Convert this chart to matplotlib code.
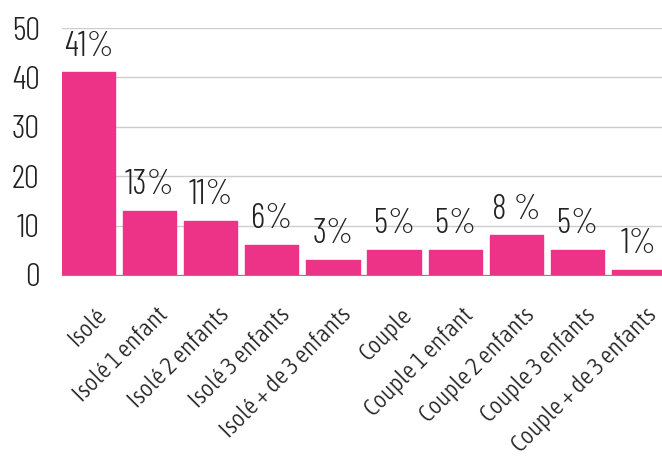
import matplotlib
matplotlib.use("Agg")
import matplotlib.pyplot as plt
from matplotlib import font_manager as fm
from matplotlib.transforms import ScaledTranslation

categories = ["Isolé", "Isolé 1 enfant", "Isolé 2 enfants", "Isolé 3 enfants",
              "Isolé + de 3 enfants", "Couple", "Couple 1 enfant",
              "Couple 2 enfants", "Couple 3 enfants", "Couple + de 3 enfants"]
values = [41, 13, 11, 6, 3, 5, 5, 8, 5, 1]
labels = ["41%", "13%", "11%", "6%", "3%", "5%", "5%", "8 %", "5%", "1%"]
yticks = [0, 10, 20, 30, 40, 50]

faces = fm.fontManager.ttflist
def has(name, maxw):
    return any(f.name == name and f.weight <= maxw for f in faces)

digit_font = "DejaVu Sans"
for cand in ["Barlow Condensed", "Saira Condensed", "Asap Condensed"]:
    if has(cand, 300):
        digit_font = cand
        break
label_font = "Asap Condensed" if has("Asap Condensed", 300) else digit_font

plt.rcParams['font.family'] = [label_font, 'DejaVu Sans']

fig = plt.figure(figsize=(6.62, 4.59), dpi=100)
ax = fig.add_axes([62/662, 1-275/459, 1-62/662, (275-28)/459])
w = 0.87
x = list(range(len(values)))
ax.bar(x, values, width=w, color="#EC3388", edgecolor="#EC3388", linewidth=1,
       joinstyle="round", zorder=3)
for xi, v, lab in zip(x, values, labels):
    ax.text(xi, v + 2.0, lab, ha="center", va="bottom", fontsize=25, color="#222222",
            family=[digit_font, 'DejaVu Sans'], weight=300)
ax.set_ylim(0, 50)
ax.set_xlim(-w/2, 9.385)
ax.set_yticks(yticks)
ax.set_yticklabels([str(v) for v in yticks], family=[digit_font, 'DejaVu Sans'],
                   weight=300, fontsize=24, color="#222222")
ax.tick_params(axis='y', length=0, pad=16)
ax.tick_params(axis='x', length=0, pad=0)
ax.set_xticks(x)
ax.set_xticklabels(categories, rotation=45, ha="right", va="center", rotation_mode="anchor",
                   fontsize=18, color="#222222", weight=300)
# scale label size so the longest label spans ~195 px like the reference
r = fig.canvas.get_renderer()
t = fig.text(0, 0, categories[-1], fontsize=18, family=[label_font, 'DejaVu Sans'], weight=300)
wpx = t.get_window_extent(r).width
t.remove()
size = 18 * 194 / wpx
off = ScaledTranslation(0.15, -0.365, fig.dpi_scale_trans)
for lab in ax.get_xticklabels():
    lab.set_fontsize(size)
    lab.set_transform(lab.get_transform() + off)
ax.grid(axis='y', color="#cccccc", linewidth=1, zorder=0)
for s in ["left", "right", "top"]:
    ax.spines[s].set_visible(False)
ax.spines["bottom"].set_color("#888888")
ax.spines["bottom"].set_zorder(4)
fig.savefig("out.png", dpi=100)
